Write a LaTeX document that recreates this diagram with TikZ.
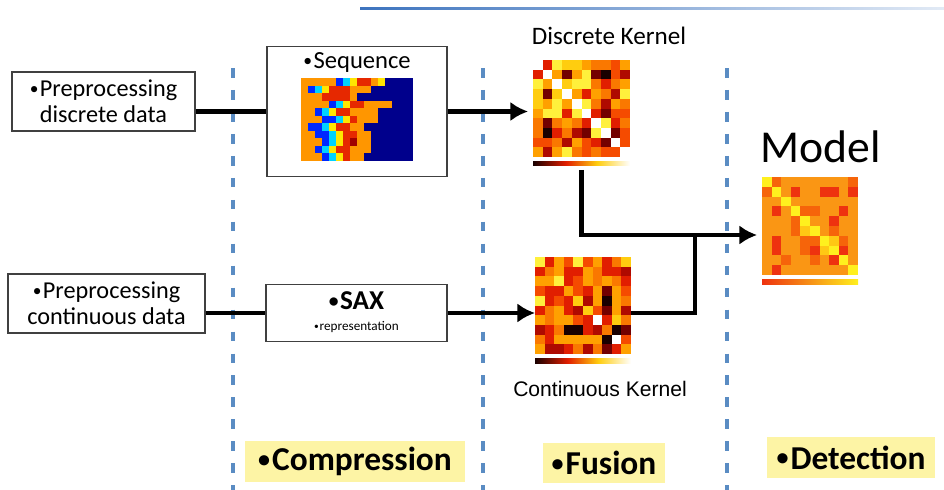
\documentclass[tikz,border=0pt]{standalone}
\usepackage{fontspec}
\setmainfont{Carlito}
\newfontfamily\arialfont{Liberation Sans}
\usetikzlibrary{arrows.meta,positioning}

% hot colour map
\definecolor{h0}{RGB}{25,0,0}
\definecolor{h1}{RGB}{115,0,0}
\definecolor{h2}{RGB}{175,10,0}
\definecolor{h3}{RGB}{225,30,0}
\definecolor{h4}{RGB}{245,75,0}
\definecolor{h5}{RGB}{250,120,0}
\definecolor{h6}{RGB}{255,160,0}
\definecolor{h7}{RGB}{255,205,15}
\definecolor{h8}{RGB}{255,240,60}
\definecolor{h9}{RGB}{255,255,255}
% model colour map
\definecolor{m4}{RGB}{238,50,15}
\definecolor{m5}{RGB}{246,100,10}
\definecolor{m6}{RGB}{250,150,20}
\definecolor{m7}{RGB}{255,200,20}
\definecolor{m8}{RGB}{255,240,30}
% jet colour map
\definecolor{j0}{RGB}{0,0,140}
\definecolor{j1}{RGB}{0,40,255}
\definecolor{j2}{RGB}{0,210,255}
\definecolor{j3}{RGB}{255,230,0}
\definecolor{j4}{RGB}{255,150,0}
\definecolor{j5}{RGB}{230,40,0}
\definecolor{j6}{RGB}{160,0,0}

\definecolor{labyel}{RGB}{253,244,165}
\definecolor{sepblue}{RGB}{90,140,195}
\definecolor{titleblue}{RGB}{60,115,190}

\pgfdeclarehorizontalshading{hotbar}{100bp}{color(0bp)=(h0); color(25bp)=(h0);
  color(42bp)=(h3); color(58bp)=(h7); color(75bp)=(white); color(100bp)=(white)}

% small bullet
\newcommand{\bul}{\raisebox{0.1em}{\scalebox{0.72}{•}}\hspace{0.06em}}

% #1 node, #2 colour prefix, #3 cell width, #4 cell height, #5 rows
\newcommand{\heatmap}[5]{%
  \begin{scope}[shift={(#1.north west)}]
    \foreach \row [count=\i from 0] in {#5} {
      \foreach \v [count=\j from 0] in \row
        \fill[fill=#2\v] (\j*#3,\i*#4) rectangle ++(#3+0.3,#4+0.3);
    }
  \end{scope}}

\begin{document}
\begin{tikzpicture}[
  x=0.02cm, y=-0.02cm,
  box/.style       = {draw=black!75, line width=0.8pt, fill=white, align=center, inner sep=0pt},
  pre/.style       = {box, font=\fontsize{13.8}{15}\selectfont, minimum height=1.18cm},
  stage/.style     = {fill=labyel, font=\bfseries\fontsize{19}{21}\selectfont, inner sep=0pt,
                      minimum height=0.84cm},
  heat/.style      = {inner sep=0pt, outer sep=0pt, minimum width=1.94cm, minimum height=1.94cm},
  stagesep/.style  = {draw=sepblue, line width=2pt, dash pattern=on 5.5pt off 7pt},
  ln/.style        = {line width=2.8pt},
  ar/.style        = {ln, -{Latex[length=10pt,width=11pt]}},
]
\useasboundingbox (0,0) rectangle (944,490);

% ---- title rule ------------------------------------------------------------
\shade[left color=titleblue, right color=titleblue!15] (360,7) rectangle (944,9.5);

% ---- stage separators ------------------------------------------------------
\foreach \x in {233,483,727}
  \draw[stagesep] (\x,68) -- (\x,490);

% ---- inputs ----------------------------------------------------------------
\node[pre, minimum width=3.66cm] (pd) at (103.5,101.5) {\bul Preprocessing\\discrete data};
\node[pre, minimum width=3.94cm] (pc) at (106.5,303.5) {\bul Preprocessing\\continuous data};

% ---- compression -----------------------------------------------------------
\node[box, minimum width=3.6cm, minimum height=2.6cm] (sq) at (357,111.5) {};
\node[font=\fontsize{14}{15}\selectfont] (sqt) at (357,63) {\bul Sequence};
\node[heat, minimum width=2.24cm, minimum height=1.65cm] (sqimg) at (357,119.25) {};
\heatmap{sqimg}{j}{7}{7.5}{{4,4,4,4,4,1,2,3,5,5,4,3,0,0,0,0},
  {4,1,2,3,5,5,5,4,4,4,0,0,0,0,0,0},
  {4,4,4,5,5,5,5,4,0,0,0,0,0,0,0,0},
  {4,4,4,4,1,2,3,5,5,4,4,4,4,0,0,0},
  {4,4,1,2,3,5,5,4,4,4,4,0,0,0,0,0},
  {4,4,4,1,1,2,3,5,4,4,4,0,0,0,0,0},
  {4,1,1,2,3,5,5,4,4,0,0,0,0,0,0,0},
  {4,4,1,1,2,3,5,5,4,4,0,0,0,0,0,0},
  {4,4,4,1,2,3,5,6,4,4,0,0,0,0,0,0},
  {4,4,1,2,3,5,5,4,4,4,0,0,0,0,0,0},
  {4,4,4,1,2,3,5,4,4,0,0,0,0,0,0,0}}

\node[box, minimum width=3.62cm, minimum height=1.14cm] (sax) at (356.5,313) {};
\node[font=\bfseries\fontsize{15.5}{17}\selectfont] (saxt) at (356.5,301) {\bul SAX};
\node[font=\fontsize{7.5}{9}\selectfont] (saxr) at (356.5,327) {\bul representation};

% ---- fusion ----------------------------------------------------------------
\node[font=\fontsize{14.3}{16}\selectfont] (dkl) at (609,36) {Discrete Kernel};
\node[heat] (dk) at (581.5,108.5) {};
\heatmap{dk}{h}{9.7}{9.7}{{9,3,8,7,7,6,5,5,4,6},
  {3,9,6,1,6,8,1,0,4,2},
  {8,6,9,7,8,8,5,3,5,6},
  {7,1,7,9,6,3,6,5,2,8},
  {7,6,8,6,9,8,5,2,6,5},
  {6,8,8,3,8,9,3,1,4,4},
  {5,1,5,6,5,3,9,8,3,5},
  {5,0,3,5,2,1,8,9,1,4},
  {4,4,5,2,6,4,3,1,9,4},
  {6,2,6,8,5,4,5,4,4,9}}
\shade[shading=hotbar] (533,161) rectangle (630,165.5);

\node[heat, minimum width=1.92cm] (ck) at (583,305.5) {};
\heatmap{ck}{h}{9.6}{9.7}{{8,3,6,4,8,4,6,3,5,7},
  {3,5,6,3,3,6,5,3,3,2},
  {6,6,8,3,4,6,5,6,5,3},
  {4,3,3,6,4,3,6,1,6,4},
  {8,3,4,3,7,2,6,0,6,5},
  {3,5,6,3,2,7,4,1,6,2},
  {6,5,6,6,4,3,9,3,7,5},
  {2,3,5,0,0,3,2,5,0,1},
  {5,3,6,6,6,6,6,0,9,4},
  {6,2,2,3,5,2,5,1,3,6}}
\shade[shading=hotbar] (535,358.5) rectangle (631,363);
\node[font=\arialfont\fontsize{12}{14}\selectfont] (ckl) at (600,389) {Continuous Kernel};

% ---- detection -------------------------------------------------------------
\node[font=\fontsize{26}{28}\selectfont] (mdl) at (821,147) {Model};
\node[heat, minimum width=1.92cm, minimum height=1.96cm] (md) at (810,226) {};
\heatmap{md}{m}{9.6}{9.8}{{8,5,6,6,6,6,6,6,6,5},
  {5,8,6,4,6,6,4,4,6,4},
  {6,6,8,6,6,6,6,6,6,6},
  {6,4,6,8,5,5,6,6,4,6},
  {6,6,6,5,8,6,6,4,6,6},
  {6,6,6,5,7,8,6,5,6,6},
  {6,4,6,6,5,5,8,7,5,6},
  {6,4,6,6,5,4,7,8,4,6},
  {6,6,5,6,6,5,6,4,8,6},
  {6,4,6,6,6,6,6,6,6,8}}
\shade[left color=m4, right color=m8] (762,279) rectangle (858,284);

% ---- stage labels ----------------------------------------------------------
\node[stage, minimum width=4.4cm]                        (comp) at (355,461.5) {\bul Compression};
\node[stage, minimum width=2.44cm, minimum height=0.8cm]  (fus)  at (604,463)   {\bul Fusion};
\node[stage, minimum width=3.36cm, minimum height=0.82cm] (det)  at (851,457.5) {\bul Detection};

% ---- connectors ------------------------------------------------------------
\coordinate (jn) at (695,235);
\draw[ln] (pd.east |- sq.west) -- (sq.west);
\draw[ar, shorten >=0.1cm] (sq.east) -- (sq.east -| dk.west);
\draw[ln] (pc.east |- sax.west) -- (sax.west);
\draw[ar] (sax.east) -- (sax.east -| ck.west);
\draw[ln, shorten <=0.26cm] (dk.south) |- (jn);
\draw[ln] (sax.east -| ck.east) -| (jn);
\draw[ar, shorten >=0.1cm] (jn) -- (jn -| md.west);

\end{tikzpicture}
\end{document}
